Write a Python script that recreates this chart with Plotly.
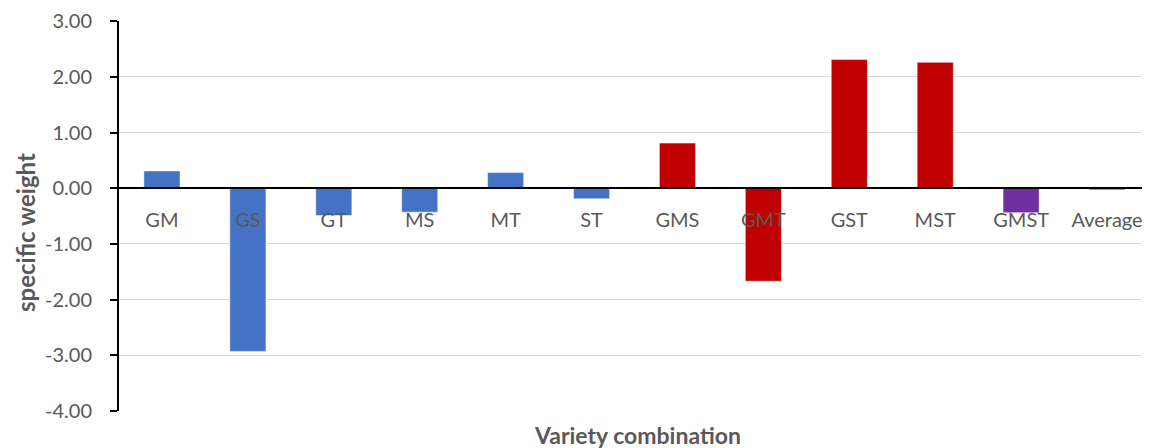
import plotly.graph_objects as go

categories = ["GM", "GS", "GT", "MS", "MT", "ST", "GMS", "GMT", "GST", "MST", "GMST", "Average"]
values = [0.31, -2.93, -0.49, -0.43, 0.28, -0.19, 0.81, -1.67, 2.31, 2.26, -0.44, -0.03]
groups = ["pair", "pair", "pair", "pair", "pair", "pair", "triple", "triple", "triple", "triple", "quad", "pair"]
group_colors = {"pair": "#4472C4", "triple": "#C00000", "quad": "#7030A0"}

y_ticks = [3, 2, 1, 0, -1, -2, -3, -4]
y_tick_text = ["3.00", "2.00", "1.00", "0.00", "-1.00", "-2.00", "-3.00", "-4.00"]
y_min, y_max = -4, 3.002

FONT = "Lato, Carlito, Calibri, sans-serif"
GRAY = "#595959"

fig = go.Figure(go.Bar(
    x=categories,
    y=values,
    marker=dict(color=[group_colors[g] for g in groups],
                line=dict(color="rgba(255,255,255,0.6)", width=0.8)),
    showlegend=False,
))

fig.update_layout(
    width=1142, height=440,
    margin=dict(l=111, r=0, t=11, b=37),
    paper_bgcolor="white", plot_bgcolor="white",
    bargap=0.58,
    font=dict(family=FONT, size=20, color=GRAY),
    xaxis=dict(
        anchor="free",
        position=(0 - y_min) / (y_max - y_min),
        showline=True, linecolor="black", linewidth=2,
        ticks="", showgrid=False,
        tickfont=dict(family=FONT, size=20, color=GRAY),
        ticklabelstandoff=14,
    ),
    yaxis=dict(
        range=[y_min, y_max],
        tickvals=y_ticks, ticktext=y_tick_text,
        showgrid=True, gridcolor="#D9D9D9", gridwidth=1,
        zeroline=False,
        showline=True, linecolor="black", linewidth=2,
        ticks="outside", ticklen=7, tickcolor="black", tickwidth=2,
        tickfont=dict(family=FONT, size=20, color=GRAY),
        ticklabelstandoff=14,
        ticklabeloverflow="allow",
    ),
    annotations=[
        dict(
            text="<b>Variety combination</b>", xref="paper", yref="paper",
            x=0.5, y=0, xshift=3, yshift=-24, yanchor="middle", showarrow=False,
            font=dict(family=FONT, size=23, color=GRAY),
        ),
        dict(
            text="<b>specific weight</b>", xref="paper", yref="paper",
            x=0, y=0.5, xshift=-94, yshift=-17, xanchor="center", yanchor="middle",
            textangle=-90, showarrow=False,
            font=dict(family=FONT, size=24, color=GRAY),
        ),
    ],
)

fig.write_html("out.html")
